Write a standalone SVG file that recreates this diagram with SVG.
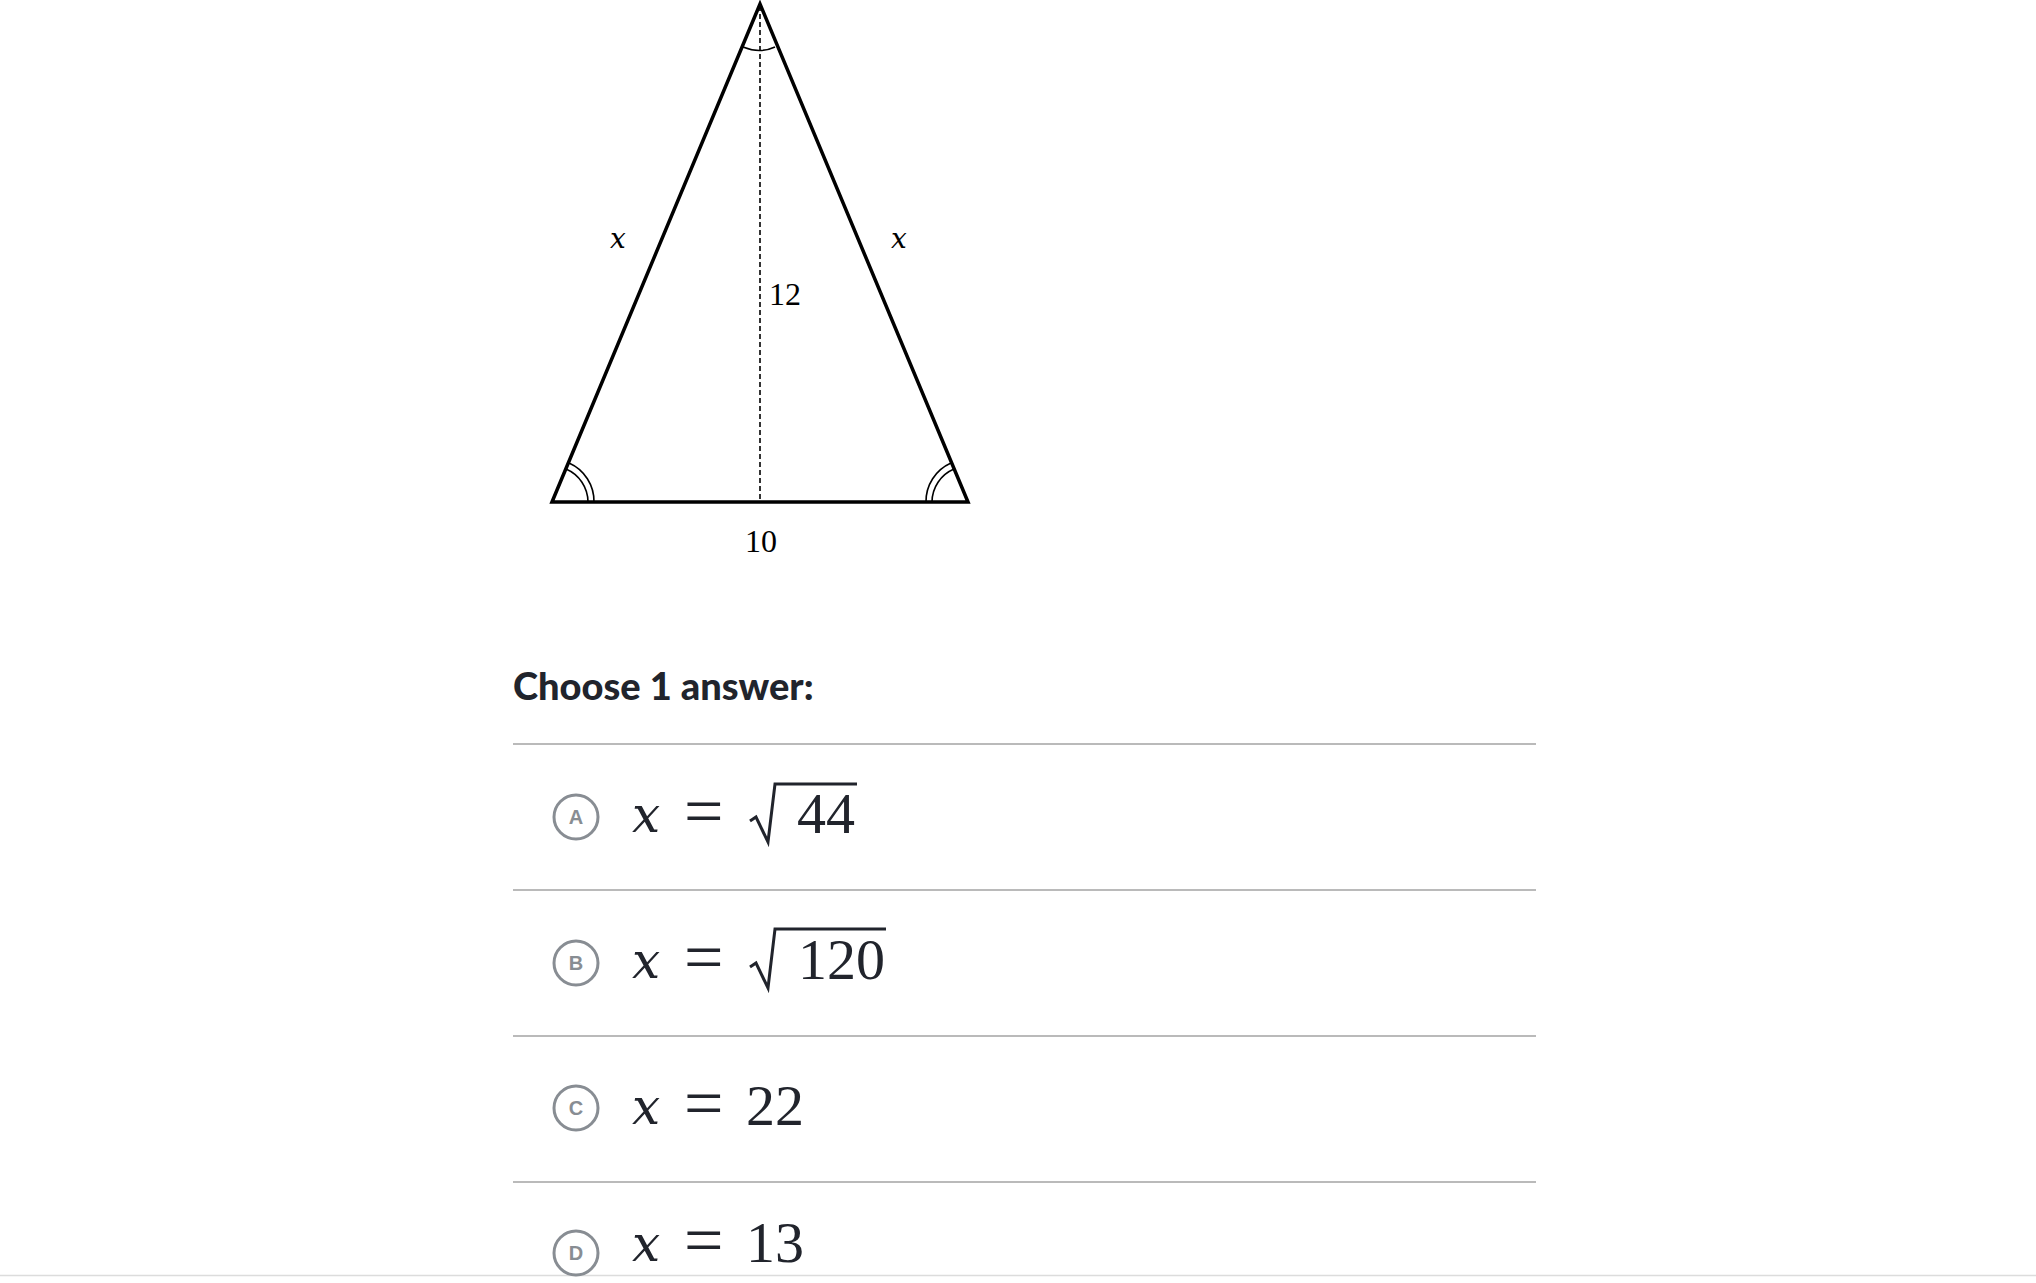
<svg xmlns="http://www.w3.org/2000/svg" width="2036" height="1283" viewBox="0 0 2036 1283">
<style>
.edge{fill:none;stroke:#000;stroke-width:3.5;stroke-linejoin:miter}
.arc{fill:none;stroke:#000;stroke-width:1.6}
.lbl{font-family:"Liberation Serif",serif;fill:#000;font-size:32px}
.var{font-family:"DejaVu Serif",serif;font-style:italic;fill:#000;font-size:28px}
.head{font-family:Lato,"Liberation Sans",sans-serif;font-weight:900;font-size:38px;fill:#21242c}
.sep{stroke:#bababa;stroke-width:2}
.bub{fill:none;stroke:#888d93;stroke-width:3}
.bl{font-family:"Liberation Sans",sans-serif;font-weight:700;font-size:20px;fill:#888d93;text-anchor:middle}
.m{font-family:"Liberation Serif",serif;font-size:58px;fill:#21242c}
.eq{font-family:"Liberation Serif",serif;font-size:70px;fill:#21242c}
.mi{font-family:"DejaVu Serif",serif;font-style:italic;font-size:50px;fill:#21242c}
.rad{fill:none;stroke:#21242c;stroke-width:3;stroke-linejoin:miter}
</style>
<rect width="2036" height="1283" fill="#fff"/>
<g id="triangle">
<path class="edge" d="M552,502 L760,4 L968,502 Z"/>
<line x1="760" y1="6" x2="760" y2="502" stroke="#000" stroke-width="1.6" stroke-dasharray="5,3"/>
<path class="arc" d="M743,47 Q760,54 775,47"/>
<path class="arc" d="M566,469 A36,36 0 0 1 588,502"/>
<path class="arc" d="M569,463 A42,42 0 0 1 594,502"/>
<path class="arc" d="M954,469 A36,36 0 0 0 932,502"/>
<path class="arc" d="M951,463 A42,42 0 0 0 926,502"/>
</g>
<g id="labels">
<text class="var" x="618" y="248" text-anchor="middle">x</text>
<text class="var" x="899" y="248" text-anchor="middle">x</text>
<text class="lbl" x="769" y="305">12</text>
<text class="lbl" x="761" y="552" text-anchor="middle">10</text>
</g>
<g id="heading">
<text class="head" x="513" y="700">Choose 1 answer:</text>
</g>
<g id="separators">
<line class="sep" x1="513" y1="744" x2="1536" y2="744"/>
<line class="sep" x1="513" y1="890" x2="1536" y2="890"/>
<line class="sep" x1="513" y1="1036" x2="1536" y2="1036"/>
<line class="sep" x1="513" y1="1182" x2="1536" y2="1182"/>
<line x1="0" y1="1275.5" x2="2036" y2="1275.5" stroke="#dcdcdc" stroke-width="1.5"/>
</g>
<g id="choice-a">
<circle class="bub" cx="576" cy="817" r="22"/>
<text class="bl" x="576" y="824">A</text>
<text class="mi" x="632" y="832">x</text>
<text class="eq" x="684" y="835">=</text>
<path class="rad" d="M750,821 L756,817 L768,842 L775,784 L857,784"/>
<text class="m" x="797" y="833">44</text>
</g>
<g id="choice-b">
<circle class="bub" cx="576" cy="963" r="22"/>
<text class="bl" x="576" y="970">B</text>
<text class="mi" x="632" y="978">x</text>
<text class="eq" x="684" y="981">=</text>
<path class="rad" d="M750,967 L756,963 L768,988 L775,929 L886,929"/>
<text class="m" x="798" y="979">120</text>
</g>
<g id="choice-c">
<circle class="bub" cx="576" cy="1108" r="22"/>
<text class="bl" x="576" y="1115">C</text>
<text class="mi" x="632" y="1124">x</text>
<text class="eq" x="684" y="1127">=</text>
<text class="m" x="746" y="1125">22</text>
</g>
<g id="choice-d">
<circle class="bub" cx="576" cy="1253" r="22"/>
<text class="bl" x="576" y="1260">D</text>
<text class="mi" x="632" y="1261">x</text>
<text class="eq" x="684" y="1264">=</text>
<text class="m" x="746" y="1262">13</text>
</g>
</svg>
